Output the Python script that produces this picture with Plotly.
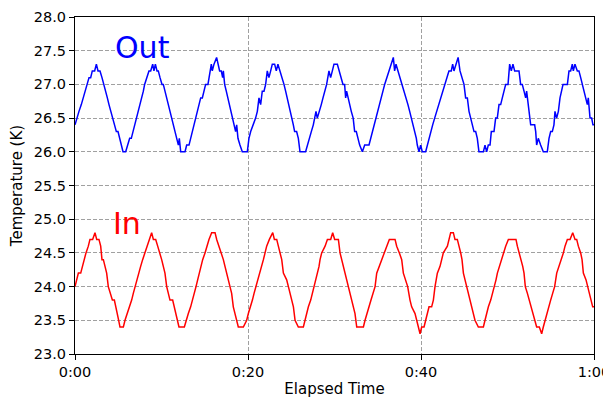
import plotly.graph_objects as go

# Elapsed time (minutes) and temperature (K) vertices
out_t = [0.0, 0.19, 0.46, 0.73, 0.96, 1.23, 1.43, 1.62, 1.81, 2.00, 2.27, 2.47, 2.66, 2.89, 3.12, 3.35,
         3.54, 3.74, 3.93, 4.12, 4.32, 4.51, 4.78, 4.97, 5.16, 5.36, 5.55, 5.86, 6.05, 6.32, 6.51, 6.71,
         6.94, 7.13, 7.32, 7.51, 7.67, 7.90, 8.05, 8.28, 8.55, 8.75, 8.98, 9.13, 9.29, 9.48, 9.63, 9.83,
         10.06, 10.21, 10.40, 10.60, 10.79, 10.98, 11.17, 11.37, 11.56, 11.75, 11.95, 12.06, 12.22, 12.72,
         12.91, 13.18, 13.37, 13.56, 13.76, 13.95, 14.14, 14.34, 14.53, 14.72, 14.91,
         15.10, 15.37, 15.60, 15.76, 15.87, 16.07, 16.37, 16.53, 16.72, 16.91, 17.07, 17.15, 17.30, 17.49,
         17.68, 17.88, 18.07, 18.26, 18.46, 18.57, 18.69, 18.84, 19.07, 19.34, 19.92, 20.11, 20.31, 20.61,
         20.88, 21.08, 21.27, 21.46, 21.65, 21.85, 22.04, 22.23, 22.42, 22.62, 22.81, 23.08, 23.27, 23.46,
         23.70, 23.97, 24.16, 24.35, 24.54, 24.74, 24.93, 25.04, 25.24, 25.39, 25.62, 25.82, 26.01, 26.66,
         26.86, 27.05, 27.32, 27.55, 27.70, 27.86, 28.01, 28.20, 28.47, 28.67, 28.86, 29.09, 29.36, 29.55,
         29.75, 29.94,
         30.33, 30.52, 30.71, 30.98, 31.17, 31.29, 31.40, 31.56, 31.75, 31.94, 32.16, 32.33, 32.52, 32.71,
         32.91, 33.22, 33.49, 33.99, 34.18, 34.37, 34.56, 34.76, 34.95, 35.14, 35.41, 35.60, 35.80, 36.03,
         36.30, 36.57, 36.80, 36.95, 37.11, 37.34, 37.57, 37.84, 38.11, 38.30, 38.49, 38.69, 38.88, 39.11,
         39.30, 39.46, 39.57, 39.77, 39.96, 40.15, 40.54, 40.73, 40.92, 41.12, 41.35, 41.58, 41.81, 42.04,
         42.27, 42.54, 42.73, 42.93, 43.23, 43.50, 43.66, 43.81, 44.01, 44.29, 44.51, 44.78, 44.97,
         45.16, 45.36, 45.55, 45.74, 45.93, 46.13, 46.32, 46.51, 46.70, 47.21, 47.40, 47.59, 47.78, 47.98,
         48.13, 48.44, 48.63, 48.82, 49.02, 49.21, 49.40, 49.59, 49.79, 50.06, 50.25, 50.44, 50.63, 50.83,
         51.33, 51.52, 51.71, 51.91, 52.10, 52.21, 52.37, 52.48, 52.68, 53.14, 53.26, 53.37, 53.56, 53.83,
         54.14, 54.60, 54.80, 54.99, 55.18, 55.37, 55.49, 55.68, 55.88, 56.07, 56.22, 56.42, 56.92, 57.11,
         57.30, 57.49, 57.61, 57.80, 58.07, 58.26, 58.46, 58.65, 58.84, 59.04, 59.23, 59.34, 59.54, 59.73,
         59.88, 60.0]
out_v = [26.4, 26.5, 26.6, 26.7, 26.8, 26.9, 27.0, 27.1, 27.1, 27.2, 27.2, 27.3, 27.2, 27.2, 27.1, 27.0,
         26.9, 26.8, 26.7, 26.6, 26.5, 26.4, 26.3, 26.3, 26.2, 26.1, 26.0, 26.0, 26.1, 26.2, 26.2, 26.3,
         26.4, 26.5, 26.6, 26.7, 26.8, 26.9, 27.0, 27.1, 27.2, 27.2, 27.3, 27.2, 27.3, 27.2, 27.2, 27.1,
         27.0, 27.0, 26.9, 26.8, 26.7, 26.6, 26.5, 26.4, 26.3, 26.2, 26.1, 26.2, 26.0, 26.0,
         26.1, 26.1, 26.2, 26.3, 26.4, 26.5, 26.6, 26.7, 26.8, 26.8, 26.9,
         27.0, 27.0, 27.2, 27.3, 27.2, 27.3, 27.4, 27.3, 27.2, 27.2, 27.1, 27.2, 27.0, 26.9,
         26.8, 26.7, 26.6, 26.5, 26.4, 26.3, 26.4, 26.2, 26.1, 26.0, 26.0, 26.2, 26.3, 26.4,
         26.5, 26.6, 26.8, 26.7, 26.9, 26.9, 27.0, 27.2, 27.1, 27.2, 27.3, 27.3, 27.2, 27.3,
         27.2, 27.1, 27.0, 26.9, 26.8, 26.7, 26.6, 26.5, 26.4, 26.3, 26.3, 26.2, 26.0, 26.0,
         26.1, 26.2, 26.3, 26.4, 26.5, 26.6, 26.5, 26.6, 26.7, 26.8, 26.9, 27.0, 27.2, 27.1,
         27.2, 27.3,
         27.3, 27.2, 27.1, 27.0, 27.0, 26.8, 26.9, 26.8, 26.7, 26.6, 26.5, 26.3, 26.3, 26.2,
         26.1, 26.0, 26.1, 26.1, 26.2, 26.3, 26.4, 26.5, 26.6, 26.7, 26.8, 26.9, 27.0, 27.1,
         27.2, 27.3, 27.4, 27.2, 27.3, 27.2, 27.1, 27.0, 26.9, 26.8, 26.7, 26.6, 26.5, 26.4,
         26.3, 26.2, 26.1, 26.0, 26.1, 26.0, 26.0, 26.1, 26.2, 26.3, 26.4, 26.5, 26.6, 26.7,
         26.8, 26.9, 27.0, 27.1, 27.2, 27.2, 27.3, 27.2, 27.3, 27.4, 27.2, 27.1, 27.0,
         26.8, 26.8, 26.6, 26.5, 26.4, 26.3, 26.3, 26.2, 26.0, 26.0, 26.1, 26.0, 26.1, 26.1,
         26.3, 26.3, 26.5, 26.5, 26.7, 26.7, 26.8, 26.9, 27.0, 27.0, 27.3, 27.2, 27.3, 27.2,
         27.2, 27.0, 27.0, 26.9, 26.8, 26.9, 26.7, 26.6, 26.4, 26.4, 26.3, 26.1, 26.2, 26.1,
         26.0, 26.0, 26.2, 26.3, 26.3, 26.4, 26.6, 26.5, 26.6, 26.8, 26.9, 27.0, 27.0, 27.2,
         27.2, 27.3, 27.2, 27.3, 27.2, 27.2, 27.1, 27.0, 26.9, 26.8, 26.7, 26.8, 26.5, 26.5,
         26.4, 26.4]

in_t = [0.0, 0.19, 0.39, 0.66, 0.85, 1.04, 1.27, 1.54, 1.73, 2.04, 2.31, 2.51, 2.77, 2.97, 3.12, 3.28,
        3.47, 3.66, 3.85, 4.05, 4.32, 4.55, 4.74, 4.89, 5.05, 5.20, 5.59, 5.78, 6.05, 6.28, 6.55, 6.74,
        6.94, 7.13, 7.32, 7.59, 7.82, 8.09, 8.36, 8.59, 8.86, 9.06, 9.33, 9.56, 9.83, 10.02, 10.21, 10.40,
        10.60, 10.79, 10.98, 11.29, 11.48, 11.68, 11.83, 12.02, 12.64, 12.83, 13.10, 13.37, 13.60, 13.79,
        13.99, 14.18, 14.37, 14.57, 14.76, 15.03, 15.22, 15.49, 15.80, 16.19, 16.38, 16.65, 16.96, 17.15,
        17.34, 17.53, 17.73, 17.92, 18.11, 18.30, 18.50, 18.69, 18.88, 19.46,
        19.85, 20.04, 20.31, 20.51, 20.70, 20.93, 21.12, 21.31, 21.58, 21.78, 21.97, 22.16, 22.47, 22.86,
        23.05, 23.32, 23.51, 23.70, 23.90, 24.09, 24.47, 24.67, 24.86, 25.05, 25.25, 25.44, 25.82, 26.40,
        26.59, 26.79, 26.98, 27.25, 27.44, 27.63, 27.87, 28.06, 28.21, 28.33, 28.52, 28.91, 29.18, 29.56,
        29.79, 30.02, 30.45, 30.64, 30.83, 31.03, 31.26, 31.41, 31.60, 31.80, 31.99, 32.18, 32.37, 32.57,
        33.34, 33.53, 33.80, 33.99, 34.22, 34.49, 34.69, 34.88, 35.19, 35.46, 35.73, 36.04, 36.34, 37.00,
        37.19, 37.50, 37.77, 37.96, 38.23, 38.46, 38.73,
        38.92, 39.31, 39.50, 39.69, 39.89, 40.08, 40.35, 40.54, 40.73, 40.93, 41.23, 41.43, 41.62, 41.89,
        42.20, 42.39, 42.58, 43.05, 43.24, 43.43, 43.74, 43.93, 44.20, 44.43, 44.59, 44.74, 44.90, 45.09,
        45.28, 45.47, 45.67, 45.86, 46.05, 46.24, 46.63, 47.21, 47.40, 47.59, 47.79, 48.06, 48.29, 48.48,
        48.67, 48.83, 49.06, 49.33, 49.52, 49.79, 50.10, 50.98, 51.14, 51.37, 51.56, 51.76, 51.91, 52.06,
        52.30, 52.53, 52.76, 52.99, 53.18, 53.37, 53.68, 53.95, 54.14, 54.34, 54.53, 54.72, 54.99, 55.22,
        55.45, 55.69, 55.96, 56.19, 56.46, 56.65, 56.92, 57.23, 57.54, 57.81, 58.00, 58.19, 58.46, 58.62,
        58.77, 59.08, 59.27, 59.46, 59.66, 59.85, 60.0]
in_v = [24.0, 24.1, 24.2, 24.2, 24.3, 24.4, 24.5, 24.6, 24.7, 24.7, 24.8, 24.7, 24.7, 24.6, 24.4, 24.4,
        24.3, 24.2, 24.0, 23.9, 23.8, 23.8, 23.7, 23.6, 23.5, 23.4, 23.4, 23.5, 23.6, 23.7, 23.8, 23.9,
        24.0, 24.1, 24.2, 24.3, 24.4, 24.5, 24.6, 24.7, 24.8, 24.7, 24.7, 24.6, 24.5, 24.4, 24.3, 24.2,
        24.0, 23.9, 23.8, 23.8, 23.7, 23.6, 23.5, 23.4, 23.4, 23.5, 23.6, 23.7, 23.8, 23.9,
        24.0, 24.1, 24.2, 24.3, 24.4, 24.5, 24.6, 24.7, 24.8, 24.8, 24.7, 24.6, 24.5, 24.4,
        24.3, 24.2, 24.1, 24.0, 23.9, 23.7, 23.6, 23.5, 23.4, 23.4,
        23.5, 23.6, 23.7, 23.8, 23.9, 24.0, 24.1, 24.2, 24.3, 24.4, 24.5, 24.6, 24.7, 24.8,
        24.7, 24.7, 24.6, 24.5, 24.4, 24.2, 24.1, 24.0, 23.9, 23.8, 23.7, 23.5, 23.4, 23.4,
        23.5, 23.6, 23.7, 23.8, 23.9, 24.0, 24.1, 24.2, 24.3, 24.4, 24.5, 24.6, 24.7, 24.7,
        24.8, 24.7, 24.7, 24.5, 24.4, 24.3, 24.2, 24.1, 24.0, 23.9, 23.8, 23.7, 23.6, 23.4,
        23.4, 23.5, 23.6, 23.7, 23.8, 23.9, 24.0, 24.2, 24.3, 24.4, 24.5, 24.6, 24.7, 24.7,
        24.6, 24.5, 24.4, 24.2, 24.1, 24.0, 23.8,
        23.7, 23.6, 23.5, 23.4, 23.3, 23.4, 23.4, 23.5, 23.6, 23.7, 23.7, 23.8, 24.0, 24.2,
        24.3, 24.4, 24.5, 24.6, 24.7, 24.8, 24.8, 24.7, 24.7, 24.6, 24.5, 24.4, 24.2, 24.1,
        24.0, 23.9, 23.8, 23.7, 23.6, 23.5, 23.4, 23.4, 23.5, 23.6, 23.7, 23.8, 23.9, 24.0,
        24.1, 24.2, 24.3, 24.4, 24.5, 24.6, 24.7, 24.7, 24.6, 24.5, 24.4, 24.3, 24.2, 24.0,
        23.9, 23.8, 23.7, 23.6, 23.5, 23.4, 23.4, 23.3, 23.4, 23.5, 23.6, 23.7, 23.8, 23.9,
        24.0, 24.2, 24.3, 24.4, 24.5, 24.6, 24.7, 24.7, 24.8, 24.7, 24.7, 24.6, 24.5, 24.4,
        24.2, 24.1, 24.0, 23.9, 23.8, 23.7, 23.7]

x_tick_vals = [0, 20, 40, 60]
x_tick_text = ["0:00", "0:20", "0:40", "1:00"]
y_tick_vals = [23.0, 23.5, 24.0, 24.5, 25.0, 25.5, 26.0, 26.5, 27.0, 27.5, 28.0]

FONT = "DejaVu Sans"

fig = go.Figure()
fig.add_trace(go.Scatter(x=out_t, y=out_v, mode="lines", name="Out",
                         line=dict(color="#0000ff", width=1.5), showlegend=False))
fig.add_trace(go.Scatter(x=in_t, y=in_v, mode="lines", name="In",
                         line=dict(color="#ff0000", width=1.5), showlegend=False))

fig.add_annotation(x=4.4, y=27.55, xref="x", yref="y", text="Out", showarrow=False,
                   xanchor="left", yanchor="middle", font=dict(family=FONT, size=30, color="#0000ff"))
fig.add_annotation(x=4.2, y=24.93, xref="x", yref="y", text="In", showarrow=False,
                   xanchor="left", yanchor="middle", font=dict(family=FONT, size=30, color="#ff0000"))

axis_common = dict(showline=True, linecolor="black", linewidth=1, mirror=True,
                   ticks="outside", ticklen=5, tickcolor="black", tickwidth=1,
                   showgrid=True, gridcolor="#a0a0a0", griddash="4px,2px", gridwidth=0.8,
                   zeroline=False, automargin=False,
                   tickfont=dict(family=FONT, size=14.5, color="black"))

fig.update_xaxes(range=[0, 60], tickvals=x_tick_vals, ticktext=x_tick_text,
                 title=dict(text="Elapsed Time", font=dict(family=FONT, size=15, color="black"), standoff=14),
                 **axis_common)
fig.update_yaxes(range=[23, 28], tickvals=y_tick_vals, tickformat=".1f",
                 title=dict(text="Temperature (K)", font=dict(family=FONT, size=15, color="black"), standoff=11),
                 **axis_common)

# the page adds an 8px body margin at the left and top, so the figure is 8px smaller
fig.update_layout(width=603, height=390, margin=dict(l=67, r=17, t=9, b=44),
                  plot_bgcolor="white", paper_bgcolor="white",
                  font=dict(family=FONT, size=14, color="black"))

fig.write_html("out.html")
